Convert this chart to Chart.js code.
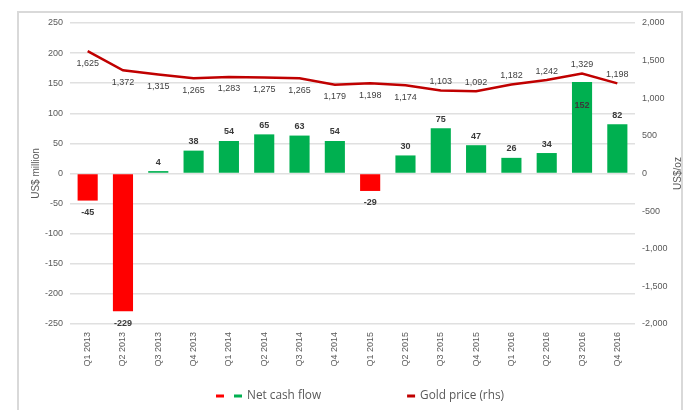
<!DOCTYPE html>
<html>
<head>
<meta charset="utf-8">
<script src="https://cdn.jsdelivr.net/npm/chart.js@4"></script>
<style>
html, body { margin: 0; padding: 0; background: #fff; }
#wrap { position: relative; width: 692px; height: 410px; overflow: hidden; }
#frame { position: absolute; left: 17px; top: 11px; width: 666px; height: 430px; border: 2px solid #D9D9D9; box-sizing: border-box; }
#chart { position: absolute; left: 0; top: 0; }
</style>
</head>
<body>
<div id="wrap">
  <div id="frame"></div>
  <canvas id="chart" width="692" height="410"></canvas>
</div>
<script>
const quarters = [
    'Q1 2013', 'Q2 2013', 'Q3 2013', 'Q4 2013',
    'Q1 2014', 'Q2 2014', 'Q3 2014', 'Q4 2014',
    'Q1 2015', 'Q2 2015', 'Q3 2015', 'Q4 2015',
    'Q1 2016', 'Q2 2016', 'Q3 2016', 'Q4 2016'
];
const netCashFlow = [-45, -229, 4, 38, 54, 65, 63, 54, -29, 30, 75, 47, 26, 34, 152, 82];
const goldPrice = [1625, 1372, 1315, 1265, 1283, 1275, 1265, 1179, 1198, 1174, 1103, 1092, 1182, 1242, 1329, 1198];

const leftRange = { min: -250, max: 250, step: 50 };
const rightRange = { min: -2000, max: 2000, step: 500 };

const RED = '#FF0000';
const GREEN = '#00B050';
const GOLD = '#C00000';
const TXT = '#595959';
const FONT = '"Liberation Sans", Arial, sans-serif';

const fmt = v => v.toLocaleString('en-US');

// labels on bars and line, axis titles and legend
const decorPlugin = {
    id: 'decor',
    afterDatasetsDraw(chart, args, opts) {
        const ctx = chart.ctx;
        const bars = chart.getDatasetMeta(0).data;
        const pts = chart.getDatasetMeta(1).data;
        ctx.save();
        ctx.textAlign = 'center';
        ctx.textBaseline = 'middle';

        ctx.font = `bold 9px ${FONT}`;
        ctx.fillStyle = '#3A3A3A';
        bars.forEach((bar, i) => {
            const v = netCashFlow[i];
            let y;
            if (v < 0) y = bar.y + 12;
            else if (bar.y < pts[i].y + 20) y = bar.y + 24;
            else y = bar.y - 9;
            ctx.fillText(fmt(v), bar.x, y);
        });

        ctx.font = `9px ${FONT}`;
        ctx.fillStyle = '#404040';
        pts.forEach((p, i) => {
            const y = i >= opts.aboveFrom ? p.y - 9 : p.y + 12;
            ctx.fillText(fmt(goldPrice[i]), p.x, y);
        });
        ctx.restore();
    },
    afterDraw(chart, args, opts) {
        const ctx = chart.ctx;
        const area = chart.chartArea;
        const midY = (area.top + area.bottom) / 2;
        ctx.save();
        ctx.fillStyle = TXT;
        ctx.font = `10px ${FONT}`;
        ctx.textAlign = 'center';
        ctx.textBaseline = 'middle';
        [[36, 'US$ million'], [678, 'US$/oz']].forEach(([x, t]) => {
            ctx.save();
            ctx.translate(x, midY);
            ctx.rotate(-Math.PI / 2);
            ctx.fillText(t, 0, 0);
            ctx.restore();
        });

        // legend
        const items = [
            { text: chart.data.datasets[0].label, colors: [RED, GREEN] },
            { text: chart.data.datasets[1].label, colors: [GOLD] }
        ];
        ctx.font = `11.8px "Open Sans", ${FONT}`;
        ctx.textAlign = 'left';
        let x = area.left + opts.legendOffset;
        const y = opts.legendY;
        items.forEach(item => {
            item.colors.forEach((c, k) => {
                ctx.fillStyle = c;
                ctx.fillRect(x, y - 1.5, 8, 3);
                x += 8 + (k < item.colors.length - 1 ? 10 : 5);
            });
            ctx.fillStyle = TXT;
            ctx.fillText(item.text, x, y);
            x += ctx.measureText(item.text).width + 86;
        });
        ctx.restore();
    }
};

new Chart(document.getElementById('chart'), {
    type: 'bar',
    data: {
        labels: quarters,
        datasets: [
            {
                type: 'bar',
                label: 'Net cash flow',
                data: netCashFlow,
                backgroundColor: netCashFlow.map(v => v < 0 ? RED : GREEN),
                barPercentage: 0.57,
                categoryPercentage: 1.0,
                yAxisID: 'y',
                order: 2
            },
            {
                type: 'line',
                label: 'Gold price (rhs)',
                data: goldPrice,
                borderColor: GOLD,
                borderWidth: 2.5,
                pointRadius: 0,
                tension: 0,
                fill: false,
                yAxisID: 'y2',
                order: 1
            }
        ]
    },
    options: {
        responsive: false,
        animation: false,
        layout: { padding: { top: 23, left: 0, right: 0, bottom: 0 } },
        scales: {
            x: {
                grid: { display: false },
                border: { display: false },
                ticks: {
                    autoSkip: false, minRotation: 90, maxRotation: 90, padding: 0,
                    color: TXT, font: { size: 9, family: FONT }
                },
                afterFit(s) { s.height = 86; }
            },
            y: {
                position: 'left',
                min: leftRange.min, max: leftRange.max,
                grid: { color: '#E0E0E0', lineWidth: 1.5, drawTicks: false },
                border: { display: false },
                ticks: {
                    stepSize: leftRange.step, padding: 7,
                    color: TXT, font: { size: 9, family: FONT }
                },
                afterFit(s) { s.width = 70; }
            },
            y2: {
                position: 'right',
                min: rightRange.min, max: rightRange.max,
                grid: { display: false, drawTicks: false },
                border: { display: false },
                ticks: {
                    stepSize: rightRange.step, padding: 7,
                    color: TXT, font: { size: 9, family: FONT },
                    callback: v => fmt(v)
                },
                afterFit(s) { s.width = 57; }
            }
        },
        plugins: {
            legend: { display: false },
            tooltip: { enabled: false },
            decor: { aboveFrom: 10, legendOffset: 146, legendY: 396 }
        }
    },
    plugins: [decorPlugin]
});
</script>
</body>
</html>
